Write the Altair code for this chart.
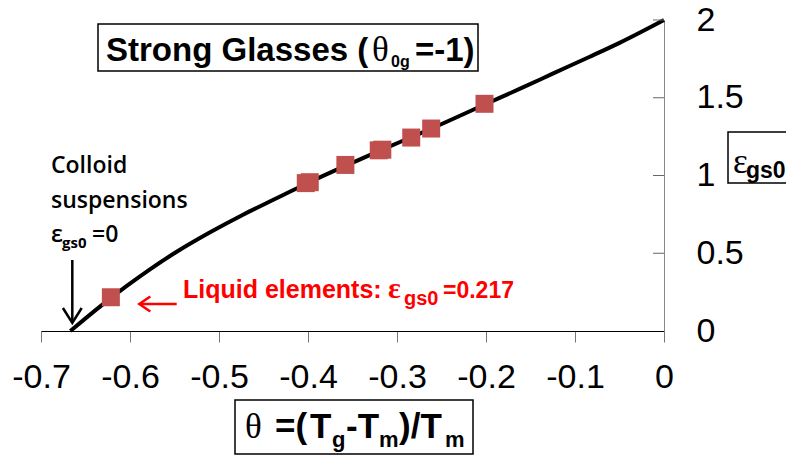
import altair as alt
import pandas as pd

# ---------------- data ----------------
curve_theta = [-0.667, -0.632, -0.604, -0.578, -0.548, -0.510, -0.473, -0.436,
               -0.409, -0.358, -0.318, -0.284, -0.262, -0.202, -0.158, -0.125,
               -0.084, -0.050, 0.0]
curve_eps = [0.0, 0.165, 0.288, 0.395, 0.508, 0.635, 0.748, 0.852,
             0.928, 1.062, 1.163, 1.246, 1.300, 1.455, 1.568, 1.655,
             1.762, 1.853, 2.0]

pts_theta = [-0.6215, -0.4025, -0.398, -0.358, -0.3205, -0.3165, -0.284, -0.2616, -0.2017]
pts_eps = [0.217, 0.951, 0.957, 1.068, 1.162, 1.166, 1.244, 1.302, 1.461]

x_ticks = [-0.7, -0.6, -0.5, -0.4, -0.3, -0.2, -0.1, 0.0]
y_ticks = [0, 0.5, 1, 1.5, 2]
y_inner_ticks = [0.5, 1, 1.5, 2]

# ---------------- layout ----------------
W, H = 623, 311
SANS = "Liberation Sans"
SERIF = "Liberation Serif"
CAL = "Open Sans"
RED = "#FF0000"
SQ = "#C0504D"

xs = alt.Scale(domain=[-0.7, 0], nice=False, zero=False)
ys = alt.Scale(domain=[0, 2], nice=False, zero=False)

x_axis = alt.Axis(
    title="", values=x_ticks, orient="bottom", grid=False,
    labelFontSize=34, labelFont=SANS, labelColor="black", labelPadding=18,
    labelFlush=False, labelOverlap=False,
    tickSize=11, tickColor="#777777", tickWidth=1,
    domainColor="black", domainWidth=1,
    labelExpr="datum.value == 0 ? '0' : '-' + format(abs(datum.value), '.1f')",
)
y_axis = alt.Axis(
    title="", values=y_ticks, orient="right", grid=False,
    labelFontSize=34, labelFont=SANS, labelColor="black", labelAlign="left",
    labelPadding=32, labelFlush=False, labelOverlap=False,
    ticks=False, tickSize=0,
    domainColor="#888888", domainWidth=1, format="~g",
)

curve_df = pd.DataFrame({"theta": curve_theta, "eps": curve_eps})
pts_df = pd.DataFrame({"theta": pts_theta, "eps": pts_eps})
tick_df = pd.DataFrame({"eps": y_inner_ticks})
one = pd.DataFrame({"k": [0]})

X = alt.X("theta:Q", scale=xs, axis=x_axis)
Y = alt.Y("eps:Q", scale=ys, axis=y_axis)

line = alt.Chart(curve_df).mark_line(
    color="black", strokeWidth=4, interpolate="monotone"
).encode(x=X, y=Y)

pts = alt.Chart(pts_df).mark_point(
    shape="square", filled=True, size=324, color=SQ, opacity=1
).encode(x=X, y=Y)

inner_ticks = alt.Chart(tick_df).mark_rule(color="#666666", strokeWidth=1).encode(
    y=Y, x=alt.value(W - 11), x2=alt.value(W)
)


def txt(s, x, y, size, font=SANS, weight="bold", color="black"):
    return alt.Chart(one).mark_text(
        text=s, font=font, fontSize=size, fontWeight=weight,
        color=color, align="left", baseline="alphabetic",
    ).encode(x=alt.value(x), y=alt.value(y))


def box(x1, x2, y1, y2):
    return alt.Chart(one).mark_rect(
        fill="white", stroke="black", strokeWidth=1.5
    ).encode(x=alt.value(x1), x2=alt.value(x2), y=alt.value(y1), y2=alt.value(y2))


def seg(x1, y1, x2, y2, color, w=2.5):
    return alt.Chart(one).mark_rule(color=color, strokeWidth=w).encode(
        x=alt.value(x1), y=alt.value(y1), x2=alt.value(x2), y2=alt.value(y2)
    )


def head(path, x, y, size, color, w=2.5):
    return alt.Chart(one).mark_point(
        shape=path, size=size, filled=False, stroke=color, strokeWidth=w, opacity=1
    ).encode(x=alt.value(x), y=alt.value(y))


layers = [
    line, pts, inner_ticks,
    # title box
    box(57, 437, 4, 51),
    txt("Strong Glasses (", 65, 41, 33),
    txt("\u03b8", 331, 41, 35, font=SERIF, weight="normal"),
    txt("0g", 350, 47, 16),
    txt("=-1)", 374, 41, 33),
    # colloid annotation
    txt("Colloid", 10, 153, 23, font=CAL, weight=600),
    txt("suspensions", 10, 188, 23, font=CAL, weight=600),
    txt("\u03b5", 10, 222, 23, font=CAL, weight=600),
    txt("gs0", 21, 228, 15, font=CAL, weight="bold"),
    txt("=0", 51, 222, 23, font=CAL, weight=600),
    seg(31.3, 240, 31.3, 302, "black"),
    head("M-1,-1.6L0,0L1,-1.6", 31.3, 303, 353, "black"),
    # liquid elements annotation
    txt("Liquid elements:", 142, 278, 25, color=RED),
    txt("\u03b5", 347, 278, 30, font=SERIF, color=RED),
    txt("gs0", 363, 285, 20, color=RED),
    txt("=0.217", 402, 278, 23, color=RED),
    seg(135.7, 284, 99, 284, RED),
    head("M1.47,-1L0,0L1.47,1", 98.3, 284, 225, RED),
    # x title box
    box(194, 432, 380, 434),
    txt("\u03b8", 204, 418, 35, font=SERIF, weight="normal"),
    txt("=(", 234, 418, 35),
    txt("T", 269, 418, 35),
    txt("g", 291, 427, 22),
    txt("-T", 305, 418, 35),
    txt("m", 338, 427, 22),
    txt(")/T", 358, 418, 35),
    txt("m", 404, 427, 22),
    # y title box
    box(687, 770, 112, 163),
    txt("\u03b5", 692, 153, 35, font=SERIF, weight="normal"),
    txt("gs0", 705, 158, 23),
]

chart = alt.layer(*layers).properties(
    width=W, height=H,
    autosize=alt.AutoSizeParams(type="none"),
    padding={"left": 33, "top": 12, "right": 122, "bottom": 126},
).configure_view(strokeWidth=0)

chart.save("out.html", embed_options={"renderer": "svg", "actions": False})
